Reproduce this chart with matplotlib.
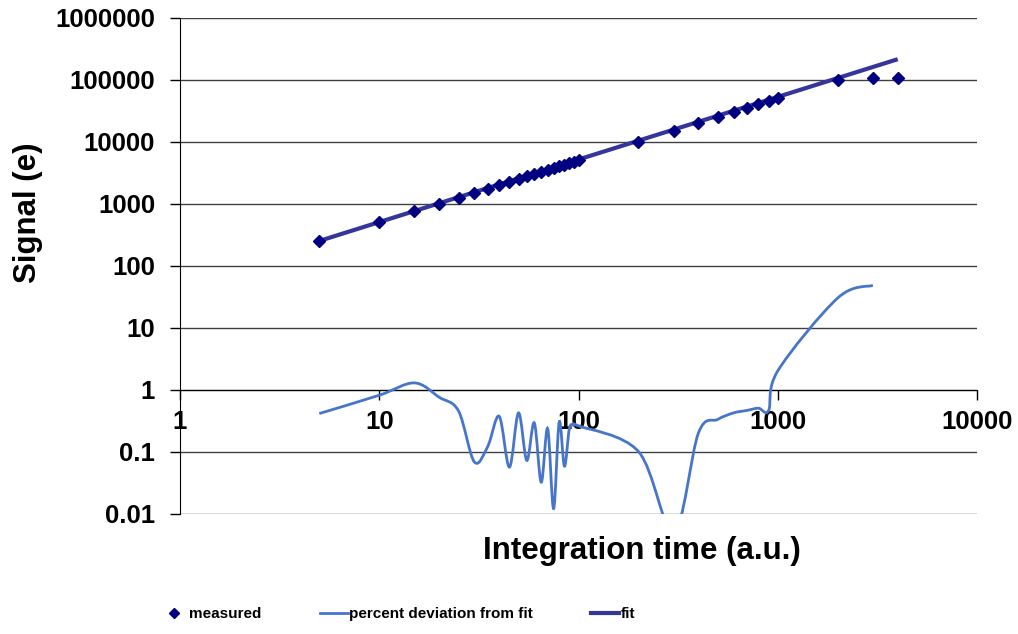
import numpy as np
import matplotlib
matplotlib.use('Agg')
import matplotlib.pyplot as plt
from matplotlib.path import Path
from matplotlib.patches import PathPatch
from matplotlib.lines import Line2D
from matplotlib import font_manager

plt.rcParams['font.family'] = ['Liberation Sans', 'DejaVu Sans']

# measured signal vs integration time
time_pts = [5, 10, 15, 20, 25, 30, 35, 40, 45, 50, 55, 60, 65, 70, 75, 80, 85, 90, 95, 100,
            200, 300, 400, 500, 600, 700, 800, 900, 1000, 2000, 3000, 4000]
signal = [250, 500, 750, 1000, 1250, 1500, 1750, 2000, 2250, 2500, 2750, 3000, 3250, 3500,
          3750, 4000, 4250, 4500, 4750, 5000, 10000, 15000, 20000, 25000, 30000, 35000,
          40000, 45000, 50000, 100000, 107000, 107000]

# percent deviation from fit
dev_time = time_pts[:-1]
deviation = [0.41, 0.81, 1.28, 0.75, 0.45, 0.068, 0.12, 0.37, 0.056, 0.42, 0.072, 0.29,
             0.032, 0.235, 0.012, 0.30, 0.058, 0.235, 0.265, 0.26, 0.1, 0.005, 0.2, 0.33,
             0.42, 0.46, 0.50, 0.46, 2.0, 30, 48]

# power-law fit end points
fit_time = [5, 4000]
fit_signal = [250, 214000]

meas_color = '#000080'
dev_color = '#4675CA'
fit_color = '#35359a'


def smooth_path(xs, ys):
    # Excel-style smoothed line: cubic Bezier through the points, built in log space
    lx, ly = np.log10(xs), np.log10(ys)
    pts = np.column_stack([lx, ly])
    verts = [pts[0]]
    codes = [Path.MOVETO]
    n = len(pts)
    for i in range(n - 1):
        p0 = pts[i - 1] if i > 0 else pts[i]
        p1 = pts[i]
        p2 = pts[i + 1]
        p3 = pts[i + 2] if i + 2 < n else pts[i + 1]
        verts += [p1 + (p2 - p0) / 6, p2 - (p3 - p1) / 6, p2]
        codes += [Path.CURVE4] * 3
    verts = 10 ** np.array(verts)
    return Path(verts, codes)


fig = plt.figure(figsize=(10.18, 6.34), dpi=100)
ax = fig.add_axes([180 / 1018, 1 - 513.5 / 634, (977 - 180) / 1018, (513.5 - 17.7) / 634])
ax.set_xscale('log')
ax.set_yscale('log')
ax.set_xlim(1, 10000)
ax.set_ylim(0.01, 1000000)

ax.yaxis.grid(True, color='#404040', lw=1)
ax.set_axisbelow(True)
ax.xaxis.set_minor_locator(matplotlib.ticker.NullLocator())
ax.yaxis.set_minor_locator(matplotlib.ticker.NullLocator())
ax.set_xticks([1, 10, 100, 1000, 10000])
ax.set_xticklabels(['1', '10', '100', '1000', '10000'])
ax.set_yticks([0.01, 0.1, 1, 10, 100, 1000, 10000, 100000, 1000000])
ax.set_yticklabels(['0.01', '0.1', '1', '10', '100', '1000', '10000', '100000', '1000000'])

for s in ['top', 'right']:
    ax.spines[s].set_visible(False)
ax.spines['bottom'].set_position(('data', 1))
ax.spines['bottom'].set_color('black')
ax.spines['left'].set_color('black')
ax.tick_params(axis='both', direction='out', length=7, width=1, color='black',
               labelsize=18.5)
ax.tick_params(axis='x', pad=8)
ax.tick_params(axis='y', pad=11)
for lab in ax.get_xticklabels() + ax.get_yticklabels():
    lab.set_fontweight('bold')

ax.plot(fit_time, fit_signal, color=fit_color, lw=3, solid_capstyle='butt', zorder=3)
ax.plot(time_pts, signal, ls='none', marker='D', ms=6, color=meas_color, zorder=4)
ax.add_patch(PathPatch(smooth_path(dev_time, deviation), fill=False, edgecolor=dev_color,
                       lw=2, zorder=3))

fig.text(642 / 1018, 1 - 551 / 634, 'Integration time (a.u.)', ha='center', va='center',
         fontsize=22.5, fontweight='bold')
fig.text(28 / 1018, 1 - 213 / 634, 'Signal (e)', ha='center', va='center', rotation=90,
         fontsize=22.5, fontweight='bold')

# legend text is condensed in the original; use a narrow face if one is installed
installed = {f.name for f in font_manager.fontManager.ttflist}
if 'Liberation Sans Narrow' in installed:
    leg_prop = {'family': 'Liberation Sans Narrow', 'weight': 'bold', 'size': 13}
else:
    leg_prop = {'family': 'Liberation Sans', 'weight': 'bold', 'size': 11}
leg_px = leg_prop['size'] * 100 / 72

handles = [
    Line2D([], [], ls='none', marker='D', ms=5, color=meas_color),
    Line2D([], [], color=dev_color, lw=2),
    Line2D([], [], color=fit_color, lw=3),
]
fig.legend(handles, ['measured', 'percent deviation from fit', 'fit'], ncol=3,
           loc='center left', bbox_to_anchor=(152 / 1018, 1 - 614 / 634), frameon=False,
           borderpad=0, handlelength=28 / leg_px, handletextpad=0.1,
           columnspacing=58 / leg_px, prop=leg_prop)

fig.savefig('out.png', dpi=100)
